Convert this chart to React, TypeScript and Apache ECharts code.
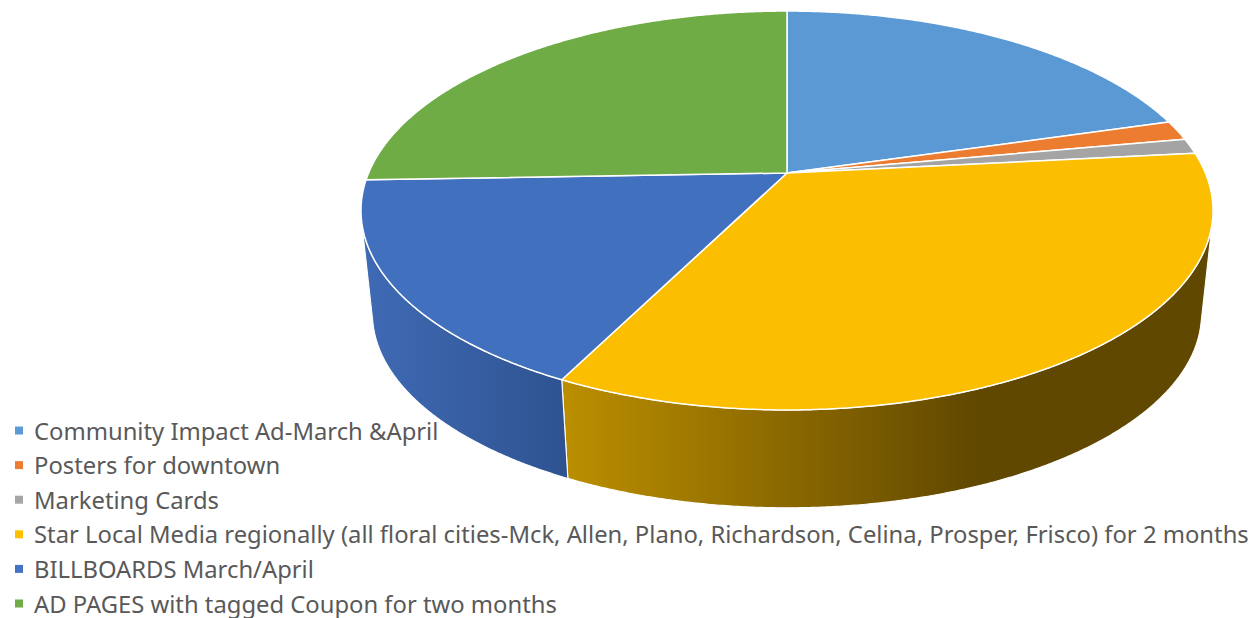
import React, { useEffect, useRef } from "react";
import * as echarts from "echarts";

// Budget shares per advertising channel, in percent, clockwise from twelve o'clock.
const channelNames = [
  "Community Impact Ad-March &April",
  "Posters for downtown",
  "Marketing Cards",
  "Star Local Media regionally (all floral cities-Mck, Allen, Plano, Richardson, Celina, Prosper, Frisco) for 2 months",
  "BILLBOARDS March/April",
  "AD PAGES with tagged Coupon for two months",
];
const channelShares = [20.5, 1.6, 1.24, 34.05, 17.05, 25.56];
const topColors = ["#5A99D4", "#EC7C30", "#A4A4A4", "#FBBE00", "#4170BF", "#6FAC46"];
const legendColors = ["#5B9BD5", "#ED7D31", "#A5A5A5", "#FFC000", "#4472C4", "#70AD47"];
// Horizontal shading of each slice's outer wall: [x from, x to, colour from, colour to].
const wallShades: [number, number, string, string][] = [
  [787, 1213, "#5A99D4", "#2F5D8A"],
  [1100, 1213, "#9A4F1C", "#8A4515"],
  [1100, 1213, "#666666", "#606060"],
  [562, 975, "#BC8F00", "#614800"],
  [365, 566, "#3F6AB4", "#2F5391"],
  [365, 787, "#4D7A30", "#426A28"],
];

// Perspective disc: the tilted plane is foreshortened around the pie's apex.
const apexX = 787;
const apexY = 173;
const radiusX = 418.4;
const radiusY = 192.4;
const tilt = 0.188;
// The base disc sits lower and slightly smaller because it is further from the viewer.
const baseScale = 0.973;
const baseApexY = 277.2;
// Depth beyond which the rim is on the viewer's side of the silhouette.
const silhouetteDepth = 0.238;

const project = (angle: number, onBase: boolean, radial = 1): number[] => {
  const px = Math.sin(angle) * radial;
  const py = -Math.cos(angle) * radial;
  const w = 1 - tilt * py;
  const scale = onBase ? baseScale : 1;
  return [
    apexX + (scale * radiusX * px) / w,
    (onBase ? baseApexY : apexY) + (scale * radiusY * py) / w,
  ];
};

const total = channelShares.reduce((a, b) => a + b, 0);
const sliceStarts = channelShares.map((_, i) =>
  channelShares.slice(0, i).reduce((a, b) => a + b, 0)
);

const arcAngles = (from: number, to: number): number[] => {
  const steps = Math.max(4, Math.ceil((to - from) / 0.006));
  const out: number[] = [];
  for (let s = 0; s <= steps; s++) out.push(from + ((to - from) * s) / steps);
  return out;
};

const renderSlice = (index: number) => (_params: any, api: any) => {
  const from = (sliceStarts[index] / total) * Math.PI * 2;
  const to = from + (api.value(0) / total) * Math.PI * 2;
  const angles = arcAngles(from, to);
  const children: any[] = [];

  const front = angles.filter((a) => -Math.cos(a) >= silhouetteDepth);
  if (front.length > 1) {
    const [x1, x2, c1, c2] = wallShades[index];
    children.push({
      type: "polygon",
      z2: 1,
      shape: {
        points: [
          ...front.map((a) => project(a, false)),
          ...[...front].reverse().map((a) => project(a, true)),
        ],
      },
      style: {
        fill: {
          type: "linear",
          x: x1,
          y: 0,
          x2,
          y2: 0,
          global: true,
          colorStops: [
            { offset: 0, color: c1 },
            { offset: 1, color: c2 },
          ],
        },
        stroke: "#FFFFFF",
        lineWidth: 1.1,
        lineJoin: "round",
      },
    });
  }

  children.push({
    type: "polygon",
    z2: 2,
    shape: {
      points: [[apexX, apexY], ...angles.map((a) => project(a, false))],
    },
    style: {
      fill: topColors[index],
      stroke: "#FFFFFF",
      lineWidth: 1.5,
      lineJoin: "round",
    },
  });
  return { type: "group", children };
};

export default function App() {
  const ref = useRef<HTMLDivElement>(null);

  useEffect(() => {
    document.body.style.margin = "0";
    const chart = echarts.init(ref.current!, undefined, { renderer: "svg" });
    chart.setOption({
      animation: false,
      backgroundColor: "#FFFFFF",
      legend: {
        orient: "vertical",
        left: 15,
        top: 418,
        padding: 0,
        itemWidth: 20,
        itemHeight: 8,
        itemGap: 9.6,
        selectedMode: false,
        icon: "path://M0 0H10V10H0Z",
        textStyle: {
          color: "#595959",
          fontFamily: "Noto Sans",
          fontSize: 23.8,
          lineHeight: 25,
        },
        data: channelNames,
      },
      series: channelNames.map((name, i) => ({
        type: "custom",
        name,
        coordinateSystem: "none",
        itemStyle: { color: legendColors[i] },
        data: [[channelShares[i]]],
        renderItem: renderSlice(i),
      })),
    });
    return () => chart.dispose();
  }, []);

  return (
    <div
      ref={ref}
      style={{ position: "absolute", left: 0, top: 0, width: 1255, height: 618 }}
    />
  );
}
